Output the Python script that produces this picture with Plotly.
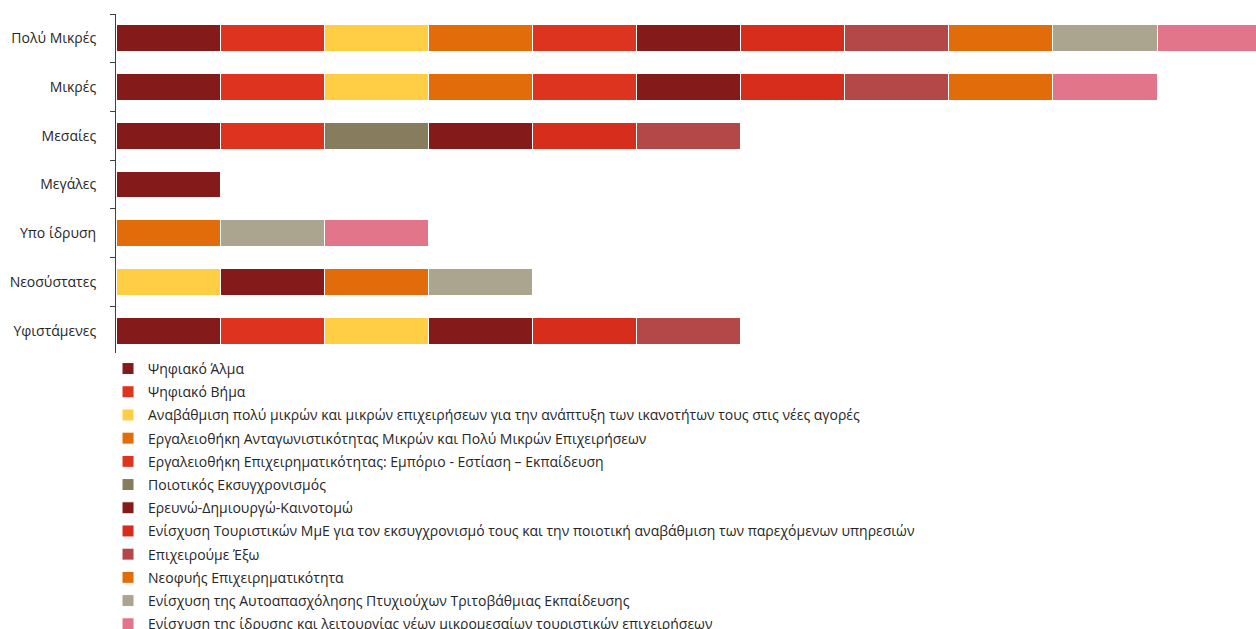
import plotly.graph_objects as go

categories = ["Πολύ Μικρές", "Μικρές", "Μεσαίες", "Μεγάλες", "Υπο ίδρυση", "Νεοσύστατες", "Υφιστάμενες"]

programs = [
    "Ψηφιακό Άλμα",
    "Ψηφιακό Βήμα",
    "Αναβάθμιση πολύ μικρών και μικρών επιχειρήσεων για την ανάπτυξη των ικανοτήτων τους στις νέες αγορές",
    "Εργαλειοθήκη Ανταγωνιστικότητας Μικρών και Πολύ Μικρών Επιχειρήσεων",
    "Εργαλειοθήκη Επιχειρηματικότητας: Εμπόριο - Εστίαση – Εκπαίδευση",
    "Ποιοτικός Εκσυγχρονισμός",
    "Ερευνώ-Δημιουργώ-Καινοτομώ",
    "Ενίσχυση Τουριστικών ΜμΕ για τον εκσυγχρονισμό τους και την ποιοτική αναβάθμιση των παρεχόμενων υπηρεσιών",
    "Επιχειρούμε Έξω",
    "Νεοφυής Επιχειρηματικότητα",
    "Ενίσχυση της Αυτοαπασχόλησης Πτυχιούχων Τριτοβάθμιας Εκπαίδευσης",
    "Ενίσχυση της ίδρυσης και λειτουργίας νέων μικρομεσαίων τουριστικών επιχειρήσεων",
]

# values per program, in the order of categories
psifiako_alma = [1, 1, 1, 1, 0, 0, 1]
psifiako_vima = [1, 1, 1, 0, 0, 0, 1]
anavathmisi = [1, 1, 0, 0, 0, 1, 1]
ergaleiothiki_antag = [1, 1, 0, 0, 0, 0, 0]
ergaleiothiki_epix = [1, 1, 0, 0, 0, 0, 0]
poiotikos = [0, 0, 1, 0, 0, 0, 0]
erevno = [1, 1, 1, 0, 0, 1, 1]
enisxysi_tour = [1, 1, 1, 0, 0, 0, 1]
epixeiroume_exo = [1, 1, 1, 0, 0, 0, 1]
neofyis = [1, 1, 0, 0, 1, 1, 0]
autoapasxolisi = [1, 0, 0, 0, 1, 1, 0]
idrysi_tour = [1, 1, 0, 0, 1, 0, 0]

series = [psifiako_alma, psifiako_vima, anavathmisi, ergaleiothiki_antag, ergaleiothiki_epix,
          poiotikos, erevno, enisxysi_tour, epixeiroume_exo, neofyis, autoapasxolisi, idrysi_tour]

colors = ["#841A1A", "#DE331E", "#FFCE44", "#E36C0A", "#DD3420", "#877C5E",
          "#841A1A", "#D62D1D", "#B44848", "#E36C0A", "#ABA590", "#E3758A"]

fig = go.Figure()
for name, vals, col in zip(programs, series, colors):
    fig.add_trace(go.Bar(
        y=categories, x=vals, name=name, orientation="h",
        marker=dict(color=col, line=dict(color="white", width=1)),
        legendgroup=name,
    ))

fig.update_layout(
    width=1256, height=629,
    barmode="stack", bargap=0.45,
    plot_bgcolor="white", paper_bgcolor="white",
    margin=dict(l=116, r=0, t=14, b=274, autoexpand=False),
    font=dict(family="Open Sans", size=14, color="#262626"),
    showlegend=True,
    legend=dict(
        orientation="v", x=-0.007, xanchor="left", y=0.006, yanchor="top",
        traceorder="grouped", tracegroupgap=2,
        font=dict(size=14, color="#262626"),
        itemwidth=30,
    ),
)
fig.update_xaxes(range=[0, 10.95], showgrid=False, showticklabels=False, zeroline=False, showline=False)
fig.update_yaxes(
    categoryorder="array", categoryarray=categories, autorange="reversed",
    showline=True, linecolor="#404040", linewidth=1,
    ticks="outside", tickson="boundaries", ticklen=5, tickcolor="#404040",
    ticklabelstandoff=16, tickfont=dict(size=14, color="#262626"),
    showgrid=False, automargin=False,
)

fig.write_html(
    "out.html",
    config={"displayModeBar": False},
    post_script="document.body.style.margin='0';document.body.style.overflow='hidden';",
)
